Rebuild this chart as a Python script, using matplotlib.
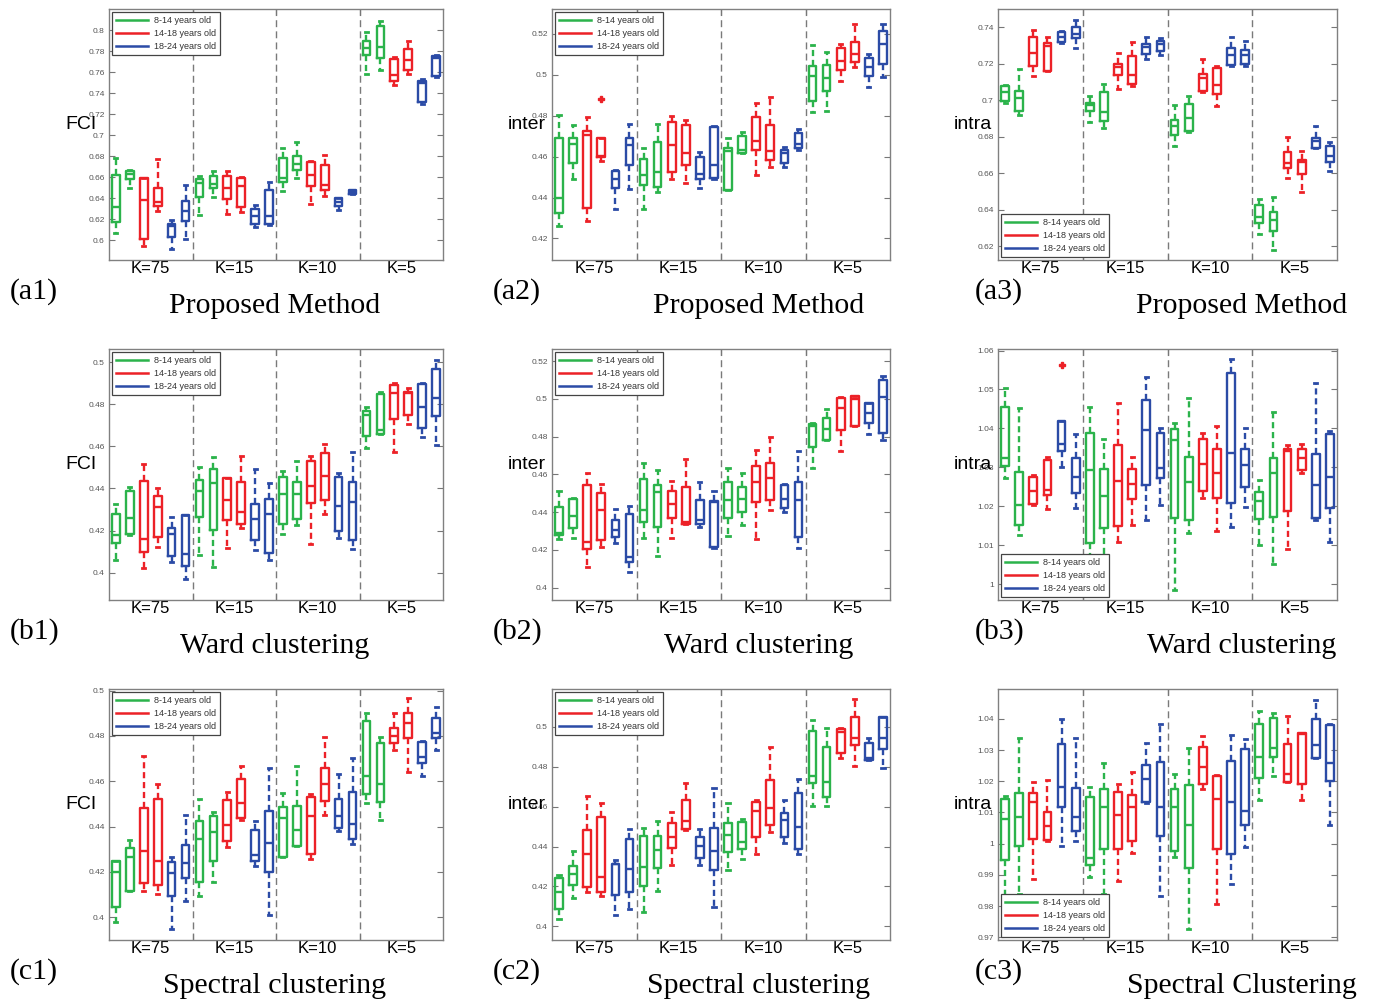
import numpy as np
import matplotlib
matplotlib.use("Agg")
import matplotlib.pyplot as plt
from matplotlib.lines import Line2D
from matplotlib.ticker import FuncFormatter

# box statistics per panel: one row per box -> [whislo, q1, med, q3, whishi]
# 24 boxes: 4 values of K x (2 green, 2 red, 2 blue)
k_labels = ["K=75", "K=15", "K=10", "K=5"]
group_names = ["8-14 years old", "14-18 years old", "18-24 years old"]
ylabels = ["FCI", "inter", "intra"]

prop_fci = [
    [0.607, 0.617, 0.631, 0.662, 0.678], [0.650, 0.658, 0.663, 0.666, 0.667],
    [0.594, 0.601, 0.638, 0.659, 0.659], [0.628, 0.632, 0.636, 0.650, 0.677],
    [0.591, 0.603, 0.613, 0.615, 0.619], [0.601, 0.618, 0.628, 0.637, 0.652],
    [0.624, 0.641, 0.654, 0.658, 0.661], [0.641, 0.650, 0.653, 0.661, 0.666],
    [0.625, 0.639, 0.650, 0.661, 0.666], [0.627, 0.631, 0.651, 0.659, 0.660],
    [0.612, 0.615, 0.623, 0.630, 0.633], [0.614, 0.615, 0.623, 0.648, 0.655],
    [0.647, 0.655, 0.659, 0.678, 0.688], [0.659, 0.667, 0.672, 0.680, 0.693],
    [0.634, 0.651, 0.662, 0.674, 0.675], [0.642, 0.648, 0.652, 0.671, 0.681],
    [0.629, 0.632, 0.636, 0.640, 0.640], [0.6435, 0.644, 0.646, 0.6476, 0.648],
    [0.758, 0.776, 0.783, 0.790, 0.798], [0.762, 0.773, 0.784, 0.804, 0.809],
    [0.748, 0.751, 0.757, 0.772, 0.774], [0.758, 0.762, 0.771, 0.782, 0.790],
    [0.730, 0.731, 0.750, 0.751, 0.753], [0.755, 0.756, 0.773, 0.775, 0.776],
]
prop_inter = [
    [0.426, 0.4325, 0.440, 0.469, 0.4805], [0.449, 0.457, 0.466, 0.469, 0.4755],
    [0.4285, 0.435, 0.4705, 0.4725, 0.4795], [0.458, 0.4598, 0.4602, 0.4688, 0.4688],
    [0.4345, 0.4445, 0.449, 0.453, 0.4533], [0.444, 0.456, 0.4655, 0.469, 0.476],
    [0.4345, 0.446, 0.451, 0.459, 0.464], [0.4425, 0.445, 0.4525, 0.467, 0.476],
    [0.449, 0.4525, 0.4655, 0.477, 0.480], [0.447, 0.456, 0.4615, 0.4755, 0.478],
    [0.4445, 0.449, 0.4515, 0.460, 0.462], [0.449, 0.4495, 0.456, 0.4745, 0.475],
    [0.4435, 0.4435, 0.4625, 0.464, 0.469], [0.4615, 0.4615, 0.463, 0.470, 0.472],
    [0.451, 0.463, 0.4675, 0.4795, 0.486], [0.455, 0.4585, 0.4625, 0.4755, 0.489],
    [0.455, 0.457, 0.4615, 0.463, 0.4645], [0.463, 0.464, 0.466, 0.4715, 0.4735],
    [0.4815, 0.487, 0.4995, 0.504, 0.5145], [0.482, 0.492, 0.4985, 0.5045, 0.511],
    [0.497, 0.502, 0.5065, 0.513, 0.515], [0.5035, 0.506, 0.510, 0.516, 0.5245],
    [0.494, 0.4995, 0.5035, 0.508, 0.510], [0.499, 0.505, 0.515, 0.5215, 0.5245],
]
prop_intra = [
    [0.6985, 0.6994, 0.7045, 0.708, 0.7085], [0.692, 0.694, 0.701, 0.705, 0.717],
    [0.7135, 0.719, 0.726, 0.7345, 0.7385], [0.7158, 0.7162, 0.7295, 0.7315, 0.7347],
    [0.7314, 0.732, 0.7345, 0.7374, 0.738], [0.7287, 0.734, 0.7363, 0.740, 0.744],
    [0.688, 0.6943, 0.6975, 0.6985, 0.7025], [0.685, 0.6888, 0.6935, 0.7045, 0.709],
    [0.706, 0.7136, 0.718, 0.720, 0.726], [0.7076, 0.709, 0.714, 0.7245, 0.732],
    [0.7228, 0.7254, 0.729, 0.731, 0.7347], [0.725, 0.7268, 0.731, 0.7323, 0.734],
    [0.675, 0.681, 0.686, 0.689, 0.6975], [0.6825, 0.683, 0.6905, 0.698, 0.7025],
    [0.7045, 0.705, 0.712, 0.7145, 0.7228], [0.697, 0.7035, 0.7085, 0.7177, 0.719],
    [0.719, 0.7195, 0.725, 0.7287, 0.7345], [0.7186, 0.720, 0.7246, 0.7277, 0.7327],
    [0.627, 0.6326, 0.636, 0.6426, 0.646], [0.618, 0.6286, 0.6344, 0.639, 0.647],
    [0.6576, 0.6628, 0.6655, 0.6716, 0.680], [0.650, 0.6595, 0.666, 0.6674, 0.672],
    [0.6738, 0.6738, 0.6778, 0.6796, 0.6857], [0.6613, 0.6664, 0.6697, 0.6747, 0.6774],
]
ward_fci = [
    [0.406, 0.414, 0.418, 0.428, 0.4325], [0.418, 0.4186, 0.426, 0.4387, 0.4408],
    [0.402, 0.410, 0.416, 0.4435, 0.4515], [0.412, 0.417, 0.431, 0.4365, 0.4403],
    [0.405, 0.408, 0.4186, 0.421, 0.4265], [0.397, 0.403, 0.409, 0.4273, 0.4273],
    [0.4086, 0.4265, 0.439, 0.444, 0.450], [0.4027, 0.4205, 0.4424, 0.4495, 0.4548],
    [0.4118, 0.425, 0.4345, 0.4448, 0.4448], [0.4213, 0.4233, 0.429, 0.443, 0.4556],
    [0.4106, 0.4157, 0.4253, 0.4324, 0.4491], [0.4059, 0.4095, 0.428, 0.4348, 0.4427],
    [0.4186, 0.4233, 0.4373, 0.4456, 0.4483], [0.4226, 0.4257, 0.4376, 0.4429, 0.453],
    [0.4138, 0.4333, 0.4413, 0.453, 0.4554], [0.428, 0.4345, 0.446, 0.457, 0.461],
    [0.4165, 0.4197, 0.4318, 0.4456, 0.4476], [0.4111, 0.4157, 0.4337, 0.4429, 0.4575],
    [0.4594, 0.4651, 0.4749, 0.4768, 0.4789], [0.4657, 0.4657, 0.4678, 0.4848, 0.486],
    [0.4575, 0.4729, 0.4852, 0.4892, 0.490], [0.4705, 0.4749, 0.4852, 0.486, 0.4879],
    [0.4646, 0.4689, 0.4789, 0.4895, 0.490], [0.4606, 0.4744, 0.4829, 0.4968, 0.5011],
]
ward_inter = [
    [0.4256, 0.4279, 0.4288, 0.4425, 0.4512], [0.4265, 0.4314, 0.438, 0.4469, 0.4473],
    [0.4111, 0.4205, 0.4243, 0.4543, 0.4605], [0.4217, 0.4252, 0.4411, 0.4499, 0.4547],
    [0.4235, 0.4266, 0.4305, 0.4358, 0.4415], [0.4085, 0.4137, 0.4164, 0.4388, 0.4432],
    [0.4265, 0.4349, 0.4411, 0.4575, 0.4658], [0.4169, 0.4323, 0.4508, 0.4543, 0.4623],
    [0.4261, 0.4367, 0.4441, 0.4513, 0.4565], [0.434, 0.434, 0.4349, 0.4535, 0.4681],
    [0.4323, 0.434, 0.4358, 0.4464, 0.4558], [0.4212, 0.4217, 0.4455, 0.4461, 0.4512],
    [0.4275, 0.4367, 0.4464, 0.4561, 0.4632], [0.4332, 0.4402, 0.4469, 0.4531, 0.4605],
    [0.4257, 0.4455, 0.4561, 0.4646, 0.4729], [0.4411, 0.4464, 0.4579, 0.4658, 0.480],
    [0.4402, 0.442, 0.4469, 0.4543, 0.4547], [0.4212, 0.427, 0.4464, 0.4561, 0.4723],
    [0.4635, 0.4746, 0.4856, 0.4865, 0.487], [0.4782, 0.4782, 0.4843, 0.490, 0.4946],
    [0.4723, 0.4835, 0.4949, 0.5006, 0.5011], [0.4856, 0.4856, 0.500, 0.5016, 0.5016],
    [0.4812, 0.487, 0.4923, 0.4976, 0.4976], [0.4782, 0.4817, 0.5011, 0.5099, 0.5122],
]
ward_intra = [
    [1.0272, 1.0304, 1.0325, 1.0454, 1.0503], [1.0126, 1.0152, 1.0203, 1.0289, 1.0452],
    [1.0203, 1.0205, 1.024, 1.0274, 1.0279], [1.0192, 1.0229, 1.0242, 1.0319, 1.0327],
    [1.0302, 1.0342, 1.036, 1.0419, 1.0419], [1.0196, 1.0233, 1.0274, 1.0323, 1.0385],
    [1.0045, 1.0105, 1.0293, 1.0389, 1.0454], [1.006, 1.0143, 1.0225, 1.0296, 1.0372],
    [1.0109, 1.0148, 1.0265, 1.0357, 1.0465], [1.0152, 1.0219, 1.0256, 1.0295, 1.0327],
    [1.0165, 1.0255, 1.0396, 1.0473, 1.0533], [1.0203, 1.0273, 1.0299, 1.0389, 1.0402],
    [0.9985, 1.0171, 1.037, 1.0399, 1.0413], [1.013, 1.0165, 1.0263, 1.0327, 1.0479],
    [1.0222, 1.0239, 1.0309, 1.0372, 1.0387], [1.0136, 1.0222, 1.0286, 1.0347, 1.0405],
    [1.0147, 1.0207, 1.0336, 1.0543, 1.0579], [1.0197, 1.0249, 1.0306, 1.0347, 1.040],
    [1.010, 1.0167, 1.0213, 1.0237, 1.0267], [1.0051, 1.0173, 1.0285, 1.0325, 1.0443],
    [1.009, 1.0188, 1.0343, 1.0347, 1.0357], [1.0285, 1.0293, 1.0325, 1.0347, 1.0359],
    [1.0165, 1.0169, 1.0255, 1.0333, 1.0516], [1.0107, 1.0195, 1.0274, 1.0385, 1.0393],
]
spec_fci = [
    [0.3981, 0.4047, 0.4202, 0.4247, 0.4247], [0.4114, 0.4117, 0.4264, 0.4306, 0.4343],
    [0.4117, 0.4151, 0.4291, 0.4483, 0.4712], [0.4102, 0.4143, 0.4247, 0.452, 0.4589],
    [0.3947, 0.4096, 0.4195, 0.4244, 0.4264], [0.4072, 0.4173, 0.4239, 0.4321, 0.4453],
    [0.4095, 0.4155, 0.4347, 0.4427, 0.452], [0.4155, 0.4247, 0.4375, 0.4449, 0.4465],
    [0.431, 0.4335, 0.4406, 0.4517, 0.4554], [0.4431, 0.4439, 0.4505, 0.4612, 0.4668],
    [0.4225, 0.4247, 0.4273, 0.4387, 0.4427], [0.401, 0.4202, 0.4328, 0.4471, 0.466],
    [0.4264, 0.4264, 0.4439, 0.4486, 0.455], [0.4313, 0.4313, 0.4384, 0.449, 0.4668],
    [0.4259, 0.4279, 0.4446, 0.453, 0.4542], [0.4452, 0.4513, 0.4586, 0.4657, 0.4796],
    [0.438, 0.4394, 0.4446, 0.452, 0.4634], [0.4324, 0.4347, 0.4412, 0.4554, 0.4702],
    [0.4505, 0.4545, 0.4624, 0.4864, 0.490], [0.4431, 0.451, 0.4589, 0.4771, 0.4796],
    [0.4737, 0.4767, 0.4801, 0.4835, 0.490], [0.4643, 0.4793, 0.4855, 0.490, 0.4968],
    [0.4623, 0.4682, 0.4705, 0.4775, 0.4778], [0.4737, 0.4793, 0.4815, 0.4877, 0.4929],
]
spec_inter = [
    [0.4036, 0.4087, 0.4173, 0.424, 0.4257], [0.4143, 0.4207, 0.4265, 0.4302, 0.4379],
    [0.417, 0.4198, 0.4365, 0.4482, 0.4653], [0.4153, 0.4173, 0.4245, 0.4546, 0.4616],
    [0.4056, 0.4157, 0.4312, 0.4315, 0.4335], [0.4087, 0.417, 0.4287, 0.4437, 0.4487],
    [0.407, 0.4203, 0.4299, 0.4454, 0.4494], [0.4178, 0.4294, 0.4382, 0.4454, 0.4529],
    [0.431, 0.4394, 0.4449, 0.4516, 0.4574], [0.4482, 0.4487, 0.4527, 0.4633, 0.4716],
    [0.4307, 0.4345, 0.4404, 0.4449, 0.4486], [0.4095, 0.4282, 0.4379, 0.4491, 0.4694],
    [0.4282, 0.4374, 0.4457, 0.4516, 0.4616], [0.4337, 0.4387, 0.4424, 0.4521, 0.4536],
    [0.4365, 0.4449, 0.4577, 0.4621, 0.4633], [0.4474, 0.4507, 0.4591, 0.4733, 0.490],
    [0.442, 0.4449, 0.4532, 0.4566, 0.4633], [0.4365, 0.439, 0.4499, 0.4666, 0.4738],
    [0.4604, 0.4716, 0.4754, 0.4978, 0.5033], [0.4604, 0.4649, 0.4724, 0.490, 0.4992],
    [0.4841, 0.4866, 0.4975, 0.4987, 0.4992], [0.4805, 0.4908, 0.4945, 0.505, 0.5137],
    [0.4833, 0.4833, 0.4845, 0.4917, 0.4945], [0.4791, 0.4891, 0.4942, 0.5047, 0.505],
]
spec_intra = [
    [0.982, 0.9948, 1.0079, 1.0143, 1.0153], [0.984, 0.9991, 1.0084, 1.0162, 1.034],
    [0.9887, 1.0016, 1.0135, 1.0162, 1.0197], [1.0009, 1.0012, 1.0057, 1.0103, 1.0205],
    [0.9991, 1.0116, 1.0183, 1.0319, 1.040], [1.001, 1.0039, 1.0085, 1.0178, 1.034],
    [0.9892, 0.9932, 0.9954, 1.0149, 1.0183], [0.984, 0.9982, 1.0119, 1.0176, 1.026],
    [0.9879, 0.9983, 1.0092, 1.0167, 1.0192], [0.997, 1.0007, 1.0119, 1.0156, 1.0231],
    [1.013, 1.0135, 1.0208, 1.0253, 1.0322], [0.9833, 1.0026, 1.0116, 1.0261, 1.0383],
    [0.9957, 0.9978, 1.0116, 1.0175, 1.0223], [0.9726, 0.9922, 1.006, 1.0189, 1.0306],
    [1.0176, 1.0191, 1.0247, 1.0309, 1.0346], [0.9807, 0.9983, 1.0144, 1.0218, 1.0221],
    [0.9871, 0.9966, 1.0135, 1.0265, 1.0349], [0.9988, 1.006, 1.0105, 1.0304, 1.0336],
    [1.0141, 1.021, 1.0279, 1.0384, 1.0426], [1.0217, 1.0279, 1.0306, 1.0404, 1.042],
    [1.0197, 1.0197, 1.0223, 1.032, 1.041], [1.0141, 1.0192, 1.0351, 1.0356, 1.0356],
    [1.0276, 1.0276, 1.0315, 1.040, 1.0461], [1.006, 1.0201, 1.026, 1.0381, 1.0383],
]

# outliers: (box index, value, colour index)
prop_inter_out = [(3, 0.488, 1)]
ward_intra_out = [(4, 1.0563, 1)]

panels = [
    [prop_fci, prop_inter, prop_intra],
    [ward_fci, ward_inter, ward_intra],
    [spec_fci, spec_inter, spec_intra],
]
outliers = {(0, 1): prop_inter_out, (1, 2): ward_intra_out}
ylims = [
    [(0.581, 0.82), (0.4095, 0.532), (0.6125, 0.750)],
    [(0.387, 0.5063), (0.3935, 0.5264), (0.9959, 1.0604)],
    [(0.390, 0.5007), (0.3932, 0.5189), (0.9691, 1.0496)],
]
yticks = [
    [(0.6, 0.8, 0.02), (0.42, 0.52, 0.02), (0.62, 0.74, 0.02)],
    [(0.4, 0.5, 0.02), (0.4, 0.52, 0.02), (1.0, 1.06, 0.01)],
    [(0.4, 0.5, 0.02), (0.4, 0.5, 0.02), (0.97, 1.04, 0.01)],
]
tags = [["(a1)", "(a2)", "(a3)"], ["(b1)", "(b2)", "(b3)"], ["(c1)", "(c2)", "(c3)"]]
titles = [
    ["Proposed Method"] * 3,
    ["Ward clustering"] * 3,
    ["Spectral clustering", "Spectral clustering", "Spectral Clustering"],
]

colors = ["#2bb34b", "#ec2127", "#2b4ba6"]
W, H = 1375, 1005
col_left = [109, 552, 998]
col_w = [334, 338, 339]
row_top = [9, 349, 689]
row_h = 251
tag_x = [10, 493, 975]
title_cx = [275, 759, 1242]

plt.rcParams["font.family"] = ["Liberation Sans", "DejaVu Sans"]

fig = plt.figure(figsize=(W / 100, H / 100), dpi=100)
fig.patch.set_facecolor("white")

positions = np.arange(1, 25)
box_color = [colors[(i % 6) // 2] for i in range(24)]

for r in range(3):
    for c in range(3):
        ax = fig.add_axes([col_left[c] / W, 1 - (row_top[r] + row_h) / H,
                           col_w[c] / W, row_h / H])
        data = np.array(panels[r][c])
        outs = outliers.get((r, c), [])
        for i in range(24):
            col = box_color[i]
            fl = [v for (j, v, ci) in outs if j == i]
            fcol = colors[[ci for (j, v, ci) in outs if j == i][0]] if fl else col
            st = dict(whislo=data[i, 0], q1=data[i, 1], med=data[i, 2],
                      q3=data[i, 3], whishi=data[i, 4], fliers=fl)
            ax.bxp([st], positions=[positions[i]], widths=0.55, capwidths=0.22,
                   boxprops=dict(color=col, lw=1.7),
                   medianprops=dict(color=col, lw=1.7),
                   whiskerprops=dict(color=col, lw=1.7, ls=(0, (2.6, 1.6))),
                   capprops=dict(color=col, lw=2.0),
                   flierprops=dict(marker="P", markersize=5, markerfacecolor=fcol,
                                   markeredgecolor=fcol, lw=0),
                   manage_ticks=False)
        for xv in (6.5, 12.5, 18.5):
            ax.axvline(xv, color="#7a7a7a", lw=1.0, ls=(0, (5, 3)), zorder=0)

        ax.set_xlim(0.5, 24.5)
        ax.set_ylim(*ylims[r][c])
        t0, t1, ts = yticks[r][c]
        ax.set_yticks(np.round(np.arange(t0, t1 + ts / 2, ts), 3))
        ax.yaxis.set_major_formatter(FuncFormatter(lambda v, p: f"{v:g}"))
        ax.tick_params(axis="y", direction="in", length=4, width=0.8, colors="#777777",
                       labelcolor="#555555", labelsize=6, right=True, pad=3)
        ax.set_xticks([6.5, 12.5, 18.5])
        ax.set_xticklabels([])
        ax.set_xticks([3.5, 9.5, 15.5, 21.5], minor=True)
        ax.set_xticklabels(k_labels, minor=True)
        ax.tick_params(axis="x", which="major", direction="in", length=4, width=0.8,
                       colors="#777777", top=True)
        ax.tick_params(axis="x", which="minor", length=0, pad=0.5,
                       labelsize=12, labelcolor="black")
        for sp in ax.spines.values():
            sp.set_color("#808080")
            sp.set_linewidth(1.0)

        ax.set_ylabel(ylabels[c], rotation=0, fontsize=14, ha="left", va="center")
        ax.yaxis.set_label_coords(-0.132, 0.54)

        handles = [Line2D([], [], color=colors[k], lw=1.8) for k in range(3)]
        leg = ax.legend(handles, group_names, loc="upper left" if c < 2 else "lower left",
                        fontsize=6.5, handlelength=3.6, handletextpad=0.6,
                        borderpad=0.45, labelspacing=0.45, borderaxespad=0.3,
                        fancybox=False, framealpha=1, edgecolor="#444444")
        leg.get_frame().set_linewidth(0.9)
        leg.set_zorder(10)
        for t in leg.get_texts():
            t.set_color("#333333")

        ty = row_top[r] + 283
        fig.text(tag_x[c] / W, 1 - ty / H, tags[r][c], fontsize=21.5,
                 family="Liberation Serif", ha="left", va="center")
        fig.text(title_cx[c] / W, 1 - (ty + 14) / H, titles[r][c], fontsize=21.5,
                 family="Liberation Serif", ha="center", va="center")

fig.savefig("out.png", dpi=100)
